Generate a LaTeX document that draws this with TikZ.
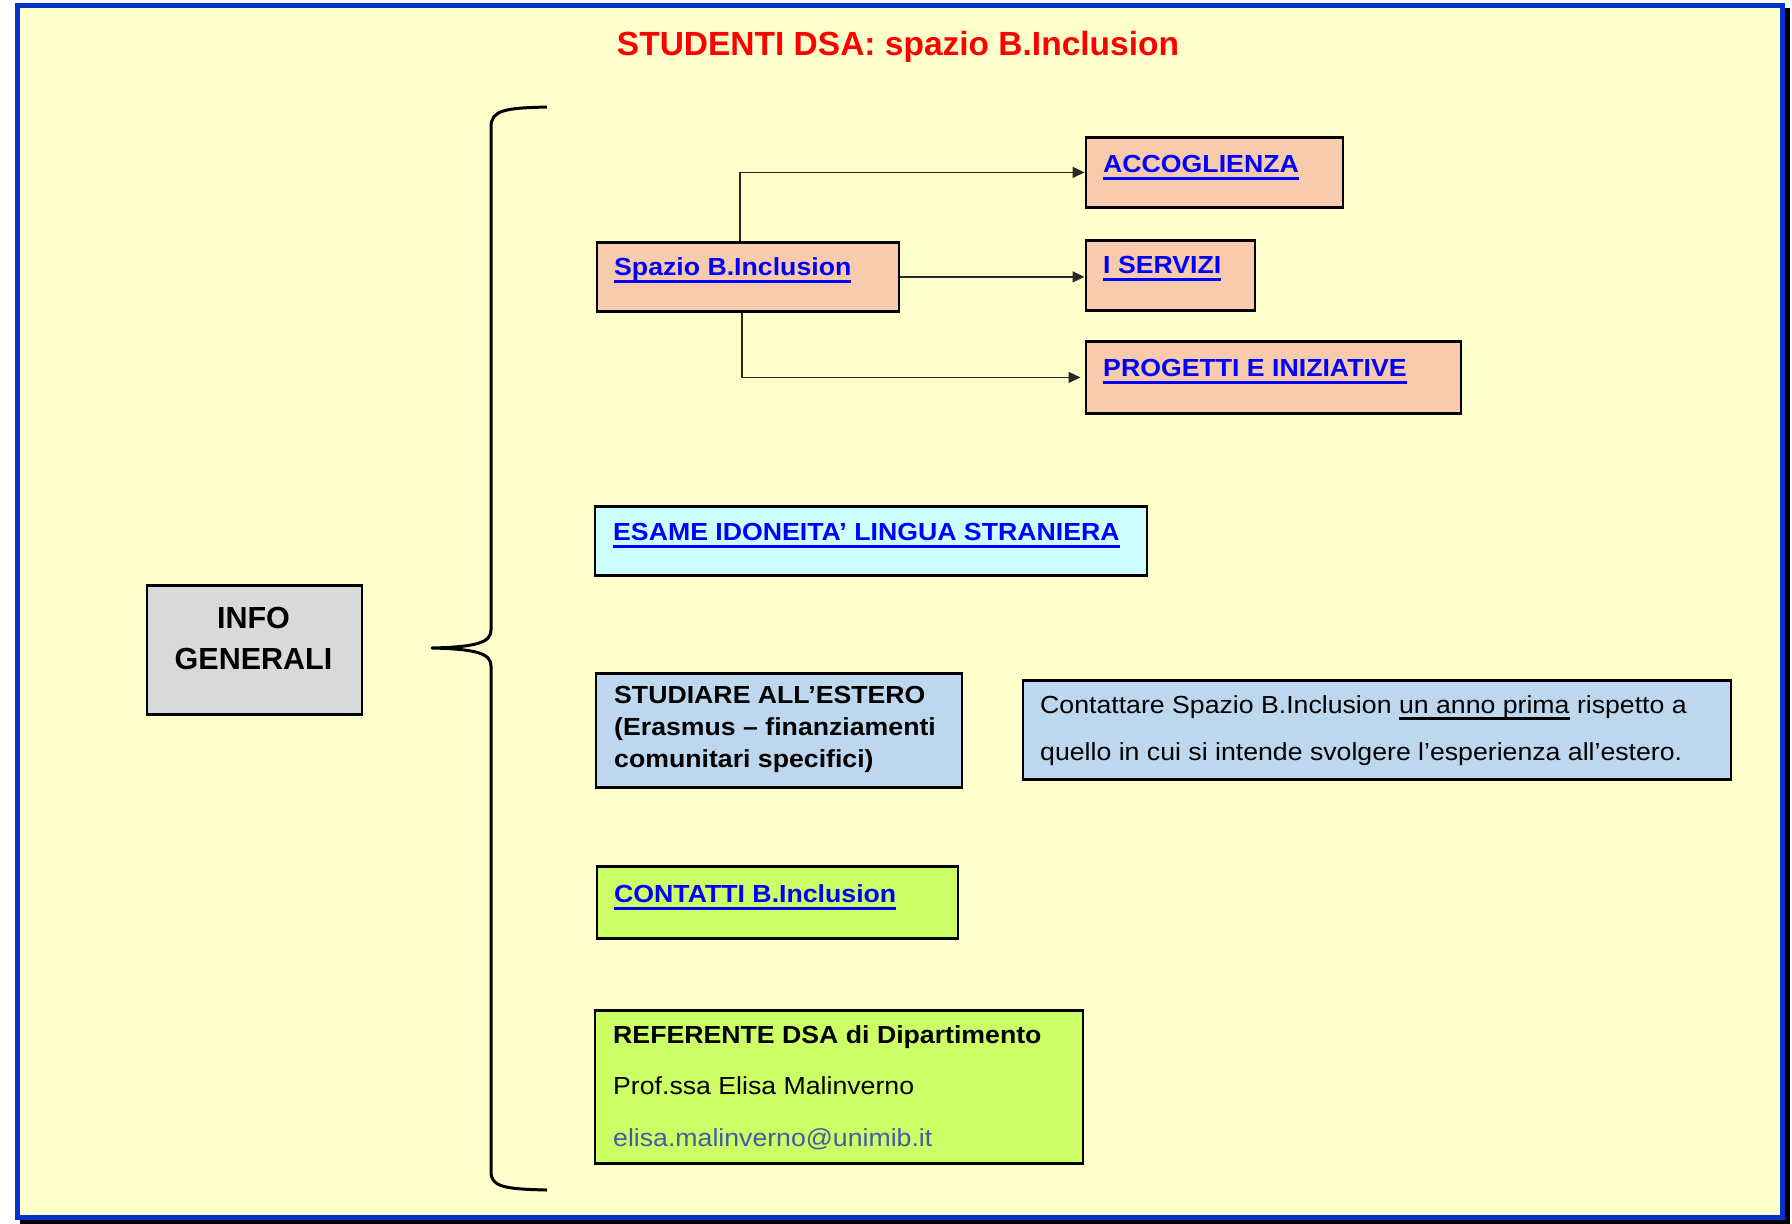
\documentclass[tikz,border=0pt]{standalone}
\usepackage{fontspec}
\setmainfont{Liberation Sans}[FakeStretch=1.08]
\newfontfamily\plainfont{Liberation Sans}
\usetikzlibrary{arrows.meta}
\definecolor{bg}{HTML}{FFFFCC}
\definecolor{frameblue}{RGB}{0,51,204}
\definecolor{peach}{RGB}{248,203,173}
\definecolor{cyanbox}{HTML}{CCFFFF}
\definecolor{bluebox}{RGB}{189,215,238}
\definecolor{limebox}{HTML}{CCFF66}
\definecolor{graybox}{HTML}{D9D9D9}
\definecolor{linkblue}{HTML}{0000FF}
\definecolor{mailblue}{RGB}{70,90,160}
\definecolor{connc}{RGB}{40,40,40}
\newsavebox\ulbox
\newcommand\myul[2][7.5pt]{\sbox\ulbox{#2}\rlap{\rule[-#1]{\wd\ulbox}{2.6pt}}\usebox\ulbox}
\newcommand\bodyfnt{\fontsize{24.7}{30}\selectfont\bfseries}
\newcommand\regfnt{\fontsize{24.7}{30}\selectfont}
\newcommand\titlefnt{\plainfont\fontsize{33.5}{40}\selectfont\bfseries}
\newcommand\infofnt{\plainfont\fontsize{30.5}{36}\selectfont\bfseries}
\tikzset{
  box/.style={draw=black, line width=2.8pt, inner sep=0pt, anchor=north west, fill=#1},
  txt/.style={anchor=base west, inner sep=0pt, font=\bodyfnt},
  reg/.style={anchor=base west, inner sep=0pt, font=\regfnt},
  link/.style={txt, text=linkblue},
  conn/.style={draw=connc, line width=1.4pt, -{Triangle[length=12pt,width=11pt]}},
}
\begin{document}
\begin{tikzpicture}[x=1pt,y=-1pt]
\useasboundingbox (0,0) rectangle (1792,1224);
\fill[white] (0,0) rectangle (1792,1224);
% frame with shadow
\draw[black, line width=5pt] (22,10.5) rectangle (1787,1221.5);
\filldraw[fill=bg, draw=frameblue, line width=5pt] (17,5.5) rectangle (1782,1217);

% title
\node[anchor=base, inner sep=0pt, font=\titlefnt, text=red] (title) at (898,55) {STUDENTI DSA: spazio B.Inclusion};

% INFO GENERALI
\node[box=graybox, minimum width=215pt, minimum height=129pt] (info) at (145.5,584) {};
\node[anchor=base, inner sep=0pt, font=\infofnt] (info1) at (253.5,628) {INFO};
\node[anchor=base, inner sep=0pt, font=\infofnt] (info2) at (253.5,669) {GENERALI};

% brace
\draw[line width=3pt, line join=round]
  (547,107) .. controls (505,108) and (491,110) .. (491,127)
  -- (491,630) .. controls (491,642) and (478,647) .. (432,648)
  .. controls (478,649) and (491,654) .. (491,666)
  -- (491,1172) .. controls (491,1187) and (505,1189) .. (547,1190);

% boxes
\node[box=peach, minimum width=302pt, minimum height=69pt] (sp) at (595.5,241) {};
\node[box=peach, minimum width=257pt, minimum height=70pt] (acc) at (1084.5,136) {};
\node[box=peach, minimum width=169pt, minimum height=70pt] (serv) at (1084.5,239) {};
\node[box=peach, minimum width=375pt, minimum height=72pt] (prog) at (1084.5,340) {};
\node[box=cyanbox, minimum width=552pt, minimum height=69pt] (esame) at (593.5,505) {};
\node[box=bluebox, minimum width=366pt, minimum height=114pt] (stud) at (594.5,672) {};
\node[box=bluebox, minimum width=708pt, minimum height=99pt] (cont) at (1021.5,679) {};
\node[box=limebox, minimum width=361pt, minimum height=72pt] (contatti) at (595.5,865) {};
\node[box=limebox, minimum width=488pt, minimum height=153pt] (ref) at (593.5,1009) {};

% connectors
\draw[conn] ([xshift=-8pt]sp.north) |- (acc.west);
\draw[conn] (sp.east) -- (sp.east -| serv.west);
\draw[conn] ([xshift=-6pt]sp.south) |- ([xshift=-4pt]prog.west);

% texts
\node[link] (spt) at (614,275) {\myul{Spazio B.Inclusion}};
\node[link] (acct) at (1103,172) {\myul{ACCOGLIENZA}};
\node[link] (servt) at (1103,273) {\myul{I SERVIZI}};
\node[link] (progt) at (1103,376) {\myul{PROGETTI E INIZIATIVE}};
\node[link] (esamet) at (613,540) {\myul{ESAME IDONEITA’ LINGUA STRANIERA}};
\node[txt] (stud1) at (614,703) {STUDIARE ALL’ESTERO};
\node[txt] (stud2) at (614,735.5) {(Erasmus – finanziamenti};
\node[txt] (stud3) at (614,767) {comunitari specifici)};
\node[reg] (cont1) at (1040,713) {Contattare Spazio B.Inclusion \myul[6.5pt]{un anno prima} rispetto a};
\node[reg] (cont2) at (1040,760) {quello in cui si intende svolgere l’esperienza all’estero.};
\node[link] (contattit) at (614,902) {\myul{CONTATTI B.Inclusion}};
\node[txt] (ref1) at (613,1043) {REFERENTE DSA di Dipartimento};
\node[reg] (ref2) at (613,1094) {Prof.ssa Elisa Malinverno};
\node[reg, text=mailblue] (ref3) at (613,1146) {elisa.malinverno@unimib.it};
\end{tikzpicture}
\end{document}
